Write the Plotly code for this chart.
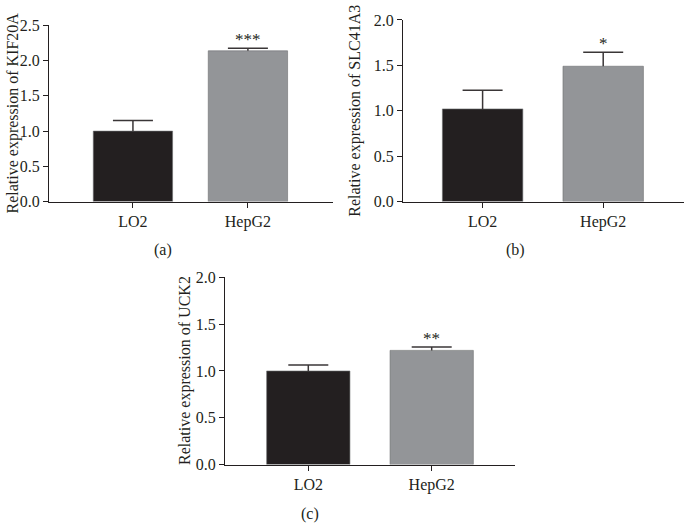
import plotly.graph_objects as go

categories = ["LO2", "HepG2"]

kif20a_values = [1.0, 2.14]
kif20a_errors = [0.15, 0.035]
kif20a_sig = "***"

slc41a3_values = [1.02, 1.49]
slc41a3_errors = [0.205, 0.155]
slc41a3_sig = "*"

uck2_values = [1.0, 1.22]
uck2_errors = [0.065, 0.035]
uck2_sig = "**"

bar_colors = ["#231f20", "#939598"]
FONT = "Liberation Serif, Times New Roman, serif"
W, H = 684, 530

panels = [
    dict(vals=kif20a_values, errs=kif20a_errors, sig=kif20a_sig, gene="KIF20A",
         px=(49, 333), py=(18, 200), yr=[0, 2.5], xr=[-0.73, 1.74], bw=0.69,
         cap=20, title_x=13, label="(a)", label_xy=(163, 250)),
    dict(vals=slc41a3_values, errs=slc41a3_errors, sig=slc41a3_sig, gene="SLC41A3",
         px=(403, 684), py=(12.3, 200), yr=[0, 2.0], xr=[-0.66, 1.67], bw=0.667,
         cap=20, title_x=355, label="(b)", label_xy=(515, 250)),
    dict(vals=uck2_values, errs=uck2_errors, sig=uck2_sig, gene="UCK2",
         px=(225, 515), py=(278.3, 471.7), yr=[0, 2.0], xr=[-0.675, 1.675], bw=0.675,
         cap=20, title_x=185, label="(c)", label_xy=(310, 523)),
]

fig = go.Figure()
annotations = []
layout = {}
xpos = list(range(len(categories)))
for i, p in enumerate(panels, start=1):
    xa = "x" if i == 1 else f"x{i}"
    ya = "y" if i == 1 else f"y{i}"
    fig.add_trace(go.Bar(
        x=xpos, y=p["vals"], width=p["bw"],
        marker=dict(color=bar_colors, line=dict(color="#6d6e71", width=0.6)),
        xaxis=xa, yaxis=ya, showlegend=False, hoverinfo="skip",
    ))
    # upper-only error bars (stem + cap), built from the data values
    unit_px = (p["px"][1] - p["px"][0]) / (p["xr"][1] - p["xr"][0])
    c = p["cap"] / unit_px
    ex, ey = [], []
    for xi, v, e in zip(xpos, p["vals"], p["errs"]):
        ex += [xi, xi, None, xi - c, xi + c, None]
        ey += [v, v + e, None, v + e, v + e, None]
    fig.add_trace(go.Scatter(
        x=ex, y=ey, mode="lines", line=dict(color="#3a3637", width=1.5),
        xaxis=xa, yaxis=ya, showlegend=False, hoverinfo="skip", connectgaps=False,
    ))
    xd = [p["px"][0] / W, p["px"][1] / W]
    yd = [1 - p["py"][1] / H, 1 - p["py"][0] / H]
    key = "" if i == 1 else str(i)
    layout["xaxis" + key] = dict(
        domain=xd, anchor=ya, range=p["xr"],
        tickvals=xpos, ticktext=categories,
        showline=True, linecolor="#231f20", linewidth=1,
        ticks="outside", ticklen=5, tickcolor="#231f20", tickwidth=1,
        showgrid=False, zeroline=False,
        tickfont=dict(family=FONT, size=16, color="#231f20"),
    )
    layout["yaxis" + key] = dict(
        domain=yd, anchor=xa, range=p["yr"], dtick=0.5, tickformat=".1f",
        showline=True, linecolor="#231f20", linewidth=1,
        ticks="outside", ticklen=5, tickcolor="#231f20", tickwidth=1,
        showgrid=False, zeroline=False,
        tickfont=dict(family=FONT, size=16, color="#231f20"),
    )
    annotations.append(dict(
        text=f"Relative expression of {p['gene']}", textangle=-90,
        xref="paper", yref="paper",
        x=p["title_x"] / W, y=(yd[0] + yd[1]) / 2,
        xanchor="center", yanchor="middle", showarrow=False,
        font=dict(family=FONT, size=16, color="#231f20"),
    ))
    annotations.append(dict(
        text=p["sig"], xref=xa, yref=ya, x=xpos[1],
        y=p["vals"][1] + p["errs"][1], yanchor="bottom", yshift=-3,
        showarrow=False, font=dict(family=FONT, size=17, color="#231f20"),
    ))
    annotations.append(dict(
        text=p["label"], xref="paper", yref="paper",
        x=p["label_xy"][0] / W, y=1 - p["label_xy"][1] / H,
        xanchor="center", yanchor="middle", showarrow=False,
        font=dict(family=FONT, size=16, color="#231f20"),
    ))

fig.update_layout(
    width=W, height=H, margin=dict(l=0, r=0, t=0, b=0),
    paper_bgcolor="white", plot_bgcolor="white",
    annotations=annotations, **layout,
)
fig.write_html("out.html", config={"displayModeBar": False, "staticPlot": True},
               post_script="document.body.style.margin='0';document.body.style.overflow='hidden';")
